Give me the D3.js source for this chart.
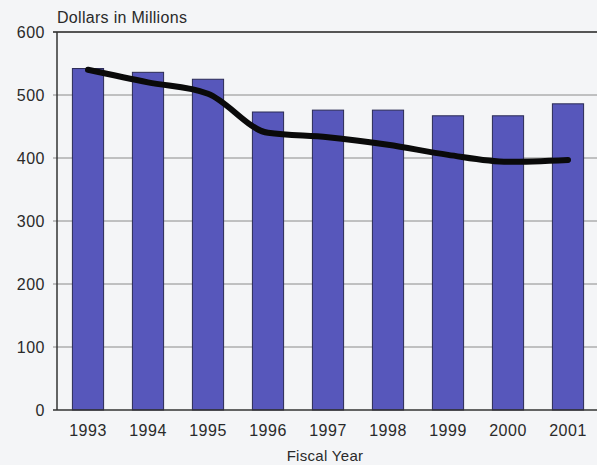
<!DOCTYPE html>
<html>
<head>
<meta charset="utf-8">
<script src="https://cdn.jsdelivr.net/npm/d3@7"></script>
<style>
  body { margin: 0; background: #f4f5f7; }
  svg { display: block; }
</style>
</head>
<body>
<svg id="chart" width="597" height="465"></svg>
<script>
const years = ["1993", "1994", "1995", "1996", "1997", "1998", "1999", "2000", "2001"];
const barValues = [542, 536, 525, 473, 476, 476, 467, 467, 486];
const lineValues = [540, 520, 502, 440, 433, 421, 405, 394, 397];
const yTicks = [0, 100, 200, 300, 400, 500, 600];

const svg = d3.select("#chart");
const font = "Liberation Sans, Arial, sans-serif";

// plot area
const plotLeft = 57, plotTop = 32, plotRight = 600, plotBottom = 410;

const x = d3.scaleBand().domain(years).range([58, 598]).paddingInner(0.48).paddingOuter(0.24);
const y = d3.scaleLinear().domain([0, 600]).range([plotBottom, plotTop]);

// gridlines (with short ticks left of the axis)
svg.append("g")
  .selectAll("line")
  .data(yTicks.filter((d) => d > 0 && d < 600))
  .join("line")
  .attr("x1", plotLeft - 4)
  .attr("x2", plotRight)
  .attr("y1", (d) => y(d))
  .attr("y2", (d) => y(d))
  .attr("stroke", "#8a8a8a")
  .attr("stroke-width", 1);

// top frame line
svg.append("line")
  .attr("x1", plotLeft - 4).attr("x2", plotRight)
  .attr("y1", y(600)).attr("y2", y(600))
  .attr("stroke", "#555").attr("stroke-width", 2);

// bars
svg.append("g")
  .selectAll("rect")
  .data(barValues)
  .join("rect")
  .attr("x", (d, i) => x(years[i]))
  .attr("y", (d) => y(d))
  .attr("width", x.bandwidth())
  .attr("height", (d) => y(0) - y(d))
  .attr("fill", "#5757bb")
  .attr("stroke", "#2a2a55")
  .attr("stroke-width", 1);

// axes lines
svg.append("line")
  .attr("x1", plotLeft).attr("x2", plotLeft)
  .attr("y1", plotTop).attr("y2", plotBottom)
  .attr("stroke", "#333").attr("stroke-width", 1.5);
svg.append("line")
  .attr("x1", plotLeft - 4).attr("x2", plotRight)
  .attr("y1", plotBottom).attr("y2", plotBottom)
  .attr("stroke", "#333").attr("stroke-width", 1.5);

// trend line
const line = d3.line()
  .x((d, i) => x(years[i]) + x.bandwidth() / 2)
  .y((d) => y(d))
  .curve(d3.curveMonotoneX);
svg.append("path")
  .datum(lineValues)
  .attr("d", line)
  .attr("fill", "none")
  .attr("stroke", "#0a0a0a")
  .attr("stroke-width", 6)
  .attr("stroke-linecap", "round")
  .attr("stroke-linejoin", "round");

// y tick labels
svg.append("g")
  .selectAll("text")
  .data(yTicks)
  .join("text")
  .text((d) => d)
  .attr("x", 45)
  .attr("y", (d) => y(d))
  .attr("dy", "0.35em")
  .attr("text-anchor", "end")
  .style("font-family", font)
  .style("font-size", "16px")
  .style("letter-spacing", "0.5px")
  .attr("fill", "#2a2a2a");

// x tick labels
svg.append("g")
  .selectAll("text")
  .data(years)
  .join("text")
  .text((d) => d)
  .attr("x", (d) => x(d) + x.bandwidth() / 2)
  .attr("y", 436)
  .attr("text-anchor", "middle")
  .style("font-family", font)
  .style("font-size", "16px")
  .style("letter-spacing", "0.5px")
  .attr("fill", "#2a2a2a");

// titles
svg.append("text")
  .text("Dollars in Millions")
  .attr("x", 57).attr("y", 23)
  .style("font-family", font)
  .style("font-size", "16px")
  .style("letter-spacing", "0.3px")
  .attr("fill", "#2a2a2a");
svg.append("text")
  .text("Fiscal Year")
  .attr("x", 325).attr("y", 461)
  .attr("text-anchor", "middle")
  .style("font-family", font)
  .style("font-size", "15px")
  .style("letter-spacing", "0.3px")
  .attr("fill", "#2a2a2a");
</script>
</body>
</html>
